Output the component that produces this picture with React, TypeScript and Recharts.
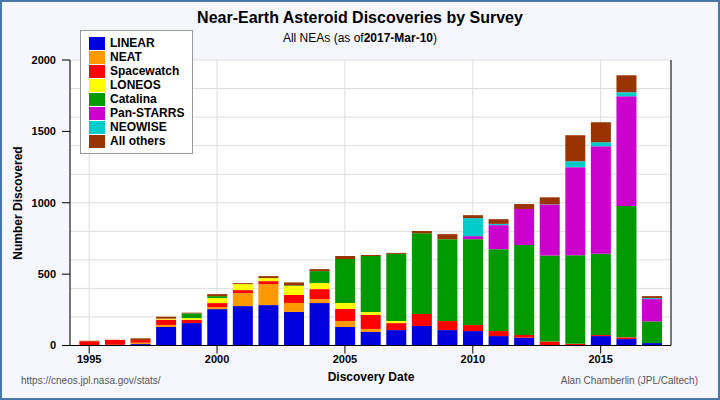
import { BarChart, Bar, XAxis, YAxis, CartesianGrid, Legend, Text } from 'recharts';

const years = [1995, 1996, 1997, 1998, 1999, 2000, 2001, 2002, 2003, 2004, 2005, 2006, 2007, 2008, 2009, 2010, 2011, 2012, 2013, 2014, 2015, 2016, 2017];

const linear = [0, 0, 10, 130, 157, 255, 276, 283, 235, 297, 130, 95, 108, 137, 108, 101, 66, 55, 3, 0, 66, 45, 17];
const neat = [0, 5, 10, 14, 0, 14, 91, 147, 63, 28, 42, 21, 0, 0, 0, 0, 0, 0, 0, 0, 0, 0, 0];
const spacewatch = [30, 35, 18, 37, 23, 28, 21, 21, 56, 70, 84, 98, 49, 84, 63, 42, 35, 19, 25, 12, 7, 12, 0];
const loneos = [0, 0, 0, 7, 12, 35, 42, 21, 63, 42, 42, 21, 14, 0, 0, 0, 0, 0, 0, 0, 0, 0, 0];
const catalina = [0, 0, 0, 0, 33, 14, 0, 0, 4, 84, 308, 392, 471, 565, 574, 602, 574, 630, 602, 621, 569, 921, 152];
const panstarrs = [0, 0, 0, 0, 0, 0, 0, 0, 0, 0, 0, 0, 0, 0, 0, 21, 168, 252, 357, 616, 754, 768, 156];
const neowise = [0, 0, 0, 0, 0, 0, 0, 0, 0, 0, 0, 0, 0, 0, 0, 126, 9, 0, 2, 42, 28, 28, 7];
const others = [3, 0, 12, 14, 5, 14, 7, 14, 21, 14, 21, 7, 7, 16, 35, 21, 33, 35, 49, 182, 140, 119, 14];

const xTicks = [1995, 2000, 2005, 2010, 2015];
const yTicks = [0, 500, 1000, 1500, 2000];
const gridValues = [0, 100, 200, 300, 400, 500, 600, 700, 800, 900, 1000, 1100, 1200, 1300, 1400, 1500, 1600, 1700, 1800, 1900, 2000];

const series = [
  { key: 'LINEAR', values: linear, color: '#0000dd' },
  { key: 'NEAT', values: neat, color: '#ff9900' },
  { key: 'Spacewatch', values: spacewatch, color: '#ff0000' },
  { key: 'LONEOS', values: loneos, color: '#ffff00' },
  { key: 'Catalina', values: catalina, color: '#009900' },
  { key: 'Pan-STARRS', values: panstarrs, color: '#cc00cc' },
  { key: 'NEOWISE', values: neowise, color: '#00cccc' },
  { key: 'All others', values: others, color: '#993300' },
];

const data = years.map((year, i) => {
  const row: Record<string, number> = { year };
  series.forEach((s) => {
    row[s.key] = s.values[i];
  });
  return row;
});

const font = '"Liberation Sans", Arial, Helvetica, sans-serif';
const tickStyle = { fontSize: 11, fontWeight: 'bold', fill: '#000', fontFamily: font };

function LegendBox() {
  return (
    <div
      style={{
        boxSizing: 'border-box',
        border: '1px solid #999',
        background: '#fff',
        padding: '5px 0 5px 8px',
        fontFamily: font,
        fontSize: 12,
        fontWeight: 'bold',
        width: 113,
        whiteSpace: 'nowrap',
        lineHeight: '14px',
      }}
    >
      {series.map((s) => (
        <div key={s.key} style={{ display: 'flex', alignItems: 'center', height: 14 }}>
          <span style={{ display: 'inline-block', flex: 'none', width: 16, height: 13, background: s.color, marginRight: 5 }} />
          <span>{s.key}</span>
        </div>
      ))}
    </div>
  );
}

export default function App() {
  return (
    <div
      style={{
        position: 'absolute',
        left: 0,
        top: 0,
        width: 720,
        height: 400,
        background: '#f6f7fe',
        fontFamily: font,
        overflow: 'hidden',
      }}
    >
      <div style={{ position: 'absolute', top: 9, width: 720, textAlign: 'center', fontSize: 16, fontWeight: 'bold' }}>
        Near-Earth Asteroid Discoveries by Survey
      </div>
      <div style={{ position: 'absolute', top: 31, width: 720, textAlign: 'center', fontSize: 12 }}>
        All NEAs (as of<b>2017-Mar-10</b>)
      </div>
      <div style={{ position: 'absolute', top: 375, left: 21, fontSize: 10, color: '#555' }}>
        https://cneos.jpl.nasa.gov/stats/
      </div>
      <div style={{ position: 'absolute', top: 375, right: 22, fontSize: 10, color: '#555' }}>
        Alan Chamberlin (JPL/Caltech)
      </div>
      <div style={{ position: 'absolute', left: 0, top: 0 }}>
        <BarChart width={720} height={400} data={data} margin={{ top: 60, left: 30, right: 9, bottom: 24.5 }}>
          <CartesianGrid
            fill="#ffffff"
            stroke="#dddddd"
            strokeWidth={1}
            horizontalValues={gridValues}
            yAxisId="left"
          />
          <XAxis
            dataKey="year"
            type="number"
            domain={[1994.25, 2017.75]}
            ticks={xTicks}
            allowDataOverflow
            height={30}
            tick={tickStyle}
            tickSize={8}
            tickMargin={2}
            axisLine={{ stroke: '#000' }}
            tickLine={{ stroke: '#000' }}
          />
          <YAxis
            yAxisId="left"
            width={40}
            domain={[0, 2000]}
            ticks={yTicks}
            tick={tickStyle}
            tickSize={8}
            tickMargin={6}
            axisLine={{ stroke: '#000' }}
            tickLine={{ stroke: '#000' }}
          />
          <YAxis
            yAxisId="right"
            orientation="right"
            width={40}
            domain={[0, 2000]}
            ticks={yTicks}
            tick={tickStyle}
            tickSize={9}
            tickMargin={6}
            axisLine={{ stroke: '#000' }}
            tickLine={{ stroke: '#000' }}
          />
          <Legend
            layout="vertical"
            align="center"
            verticalAlign="middle"
            wrapperStyle={{ top: 30, left: 80, width: 113 }}
            content={() => <LegendBox />}
          />
          {series.map((s) => (
            <Bar
              key={s.key}
              dataKey={s.key}
              stackId="a"
              yAxisId="left"
              fill={s.color}
              barSize={20}
              isAnimationActive={false}
            />
          ))}
          <Text x={18} y={203} angle={-90} textAnchor="middle" verticalAnchor="middle" fontSize={12} fontWeight="bold" fill="#000" fontFamily={font}>
            Number Discovered
          </Text>
          <Text x={371} y={377} textAnchor="middle" verticalAnchor="middle" fontSize={12} fontWeight="bold" fill="#000" fontFamily={font}>
            Discovery Date
          </Text>
        </BarChart>
      </div>
      <div
        style={{
          position: 'absolute',
          left: 0,
          top: 0,
          width: 720,
          height: 400,
          boxSizing: 'border-box',
          border: '2px solid #4a76a8',
          pointerEvents: 'none',
        }}
      />
    </div>
  );
}
